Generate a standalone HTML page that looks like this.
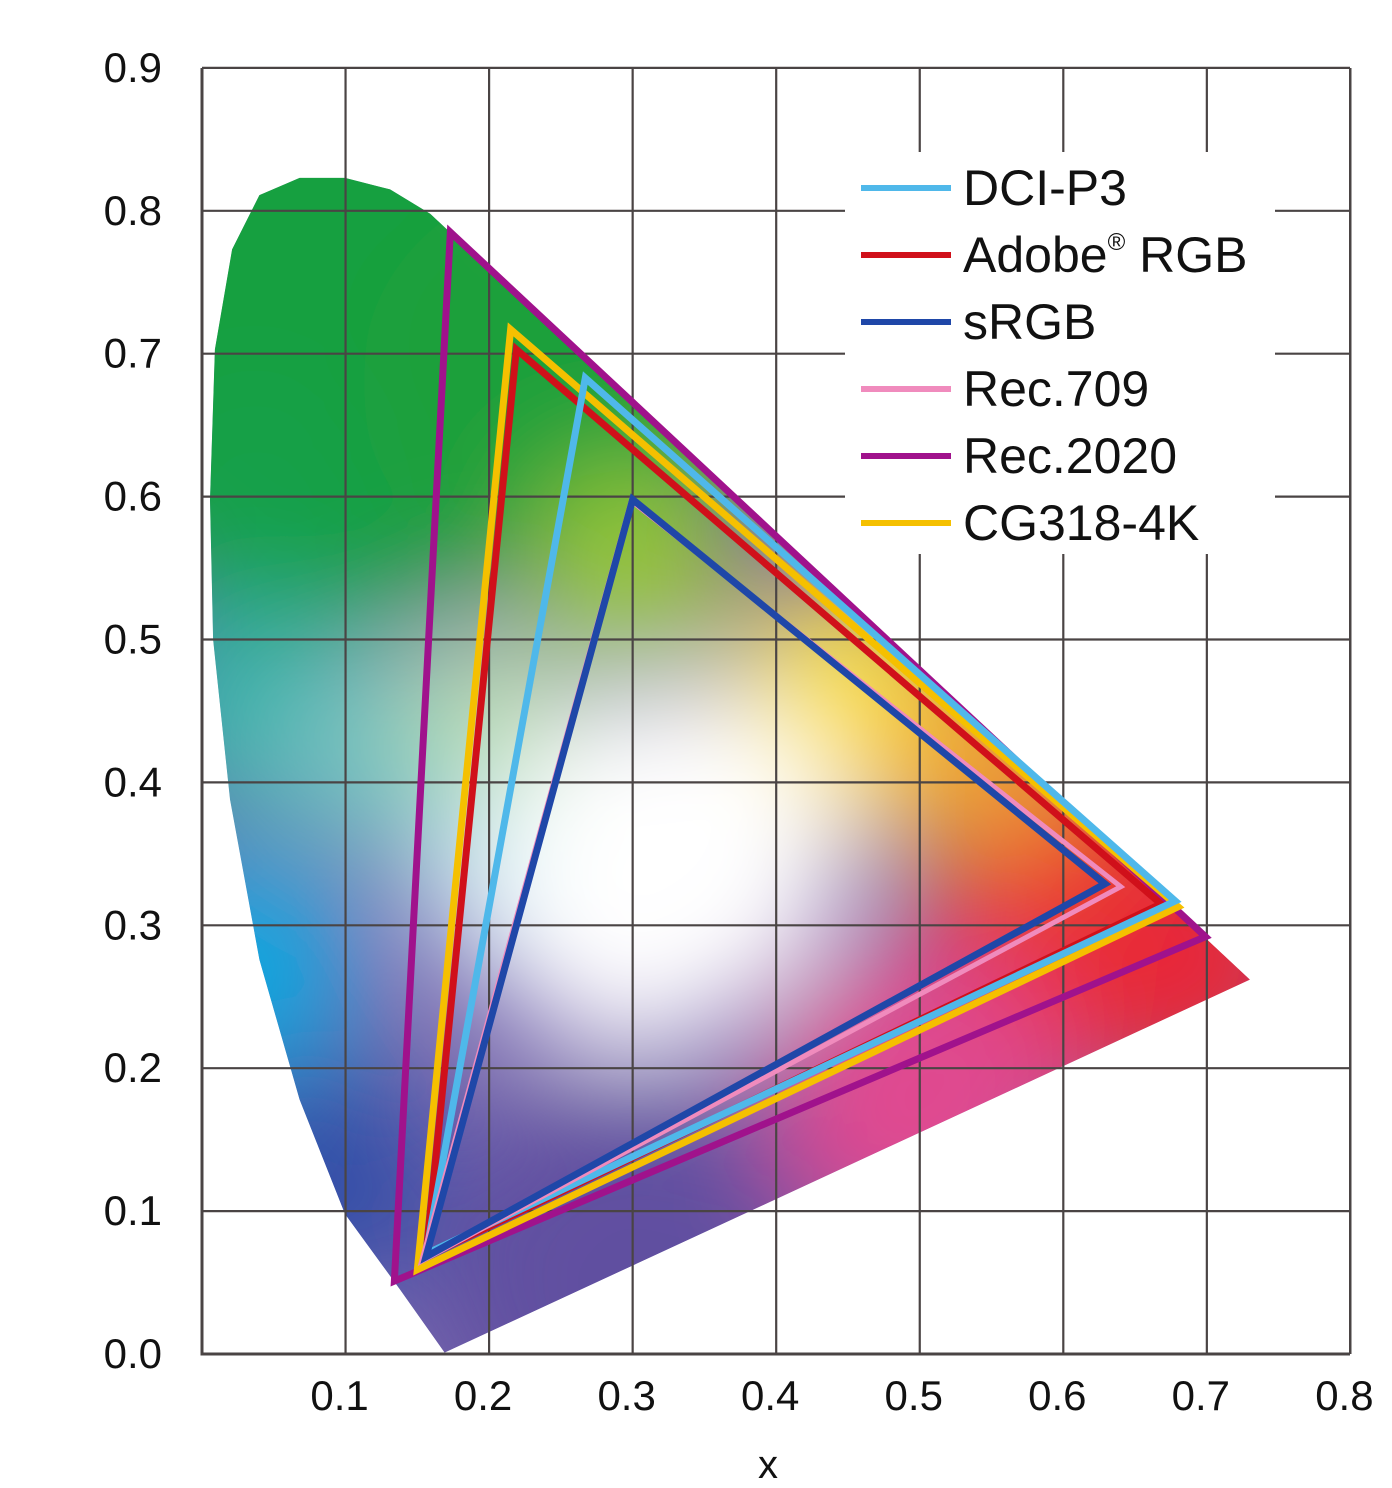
<!DOCTYPE html>
<html><head><meta charset="utf-8"><style>
html,body{margin:0;padding:0;background:#fff;}
svg{display:block;font-family:"Liberation Sans",Arial,sans-serif;}
</style></head><body>
<svg id="chart" width="1392" height="1488" viewBox="0 0 1392 1488" xmlns="http://www.w3.org/2000/svg">
<defs>
<clipPath id="locusClip"><path id="clipPath"></path></clipPath>
<filter id="blur" x="-50%" y="-50%" width="200%" height="200%"><feGaussianBlur stdDeviation="55"/></filter>
</defs>
<g id="locusGroup" clip-path="url(#locusClip)"></g>
<g id="grid"></g>
<g id="tris"></g>
<g id="legend"></g>
<g id="axes"></g>
</svg>
<script>
const xTicks=[0.1,0.2,0.3,0.4,0.5,0.6,0.7,0.8];
const yTicks=[0.0,0.1,0.2,0.3,0.4,0.5,0.6,0.7,0.8,0.9];
const xTickLabels=["0.1","0.2","0.3","0.4","0.5","0.6","0.7","0.8"];
const yTickLabels=["0.0","0.1","0.2","0.3","0.4","0.5","0.6","0.7","0.8","0.9"];
const locusX=[0.169,0.730,0.159,0.131,0.0996,0.068,0.040,0.021,0.009,0.0056,0.0077,0.0195,0.040,0.068,0.0996,0.138,0.169];
const locusY=[0.001,0.262,0.798,0.815,0.823,0.823,0.811,0.773,0.703,0.598,0.500,0.388,0.276,0.178,0.098,0.045,0.001];
const gamutNames=["DCI-P3","Adobe RGB","sRGB","Rec.709","Rec.2020","CG318-4K"];
const gamutColors=["#4fb8ea","#d0101a","#1f47a8","#f08bbd","#a0128c","#f5c000"];
const gamutRx=[0.678,0.668,0.629,0.640,0.699,0.680];
const gamutRy=[0.317,0.315,0.329,0.327,0.292,0.313];
const gamutGx=[0.267,0.219,0.300,0.299,0.173,0.215];
const gamutGy=[0.683,0.703,0.598,0.597,0.785,0.717];
const gamutBx=[0.156,0.156,0.156,0.153,0.134,0.150];
const gamutBy=[0.070,0.068,0.068,0.065,0.051,0.059];
const X0=202,XS=1435.5,Y0=1354,YS=1429;
const sx=v=>X0+v*XS, sy=v=>Y0-v*YS;
const NS="http://www.w3.org/2000/svg";
function mk(t,a,p){const e=document.createElementNS(NS,t);for(const k in a)e.setAttribute(k,a[k]);p.appendChild(e);return e;}
let d=locusX.map((x,i)=>(i?"L":"M")+sx(x).toFixed(1)+","+sy(locusY[i]).toFixed(1)).join(" ")+"Z";
document.getElementById("clipPath").setAttribute("d",d);
const lg=document.getElementById("locusGroup");
const bg=mk("path",{d:d,fill:"#7a6ab0"},lg);


const blobs=[[0.08,0.72,300,"#14a040"],[0.25,0.68,200,"#1aa03a"],[0.04,0.60,120,"#18a048"],[0.03,0.45,110,"#30b0a8"],[0.12,0.42,110,"#70c0c0"],[0.03,0.27,110,"#10a8e0"],[0.08,0.12,120,"#3050a8"],[0.30,0.05,200,"#6050a0"],[0.62,0.30,170,"#e83030"],[0.70,0.27,110,"#e82838"],[0.50,0.18,150,"#e04890"],[0.45,0.45,130,"#f8e040"],[0.55,0.42,100,"#f0a030"],[0.20,0.45,90,"#b8dcb0"],[0.22,0.33,100,"#c8e8f0"],[0.33,0.35,170,"#ffffff"],[0.30,0.30,130,"#ffffff"],[0.30,0.55,100,"#98c838"]];
const bl=mk("g",{filter:"url(#blur)"},lg);
blobs.forEach(b=>{mk("circle",{cx:sx(b[0]),cy:sy(b[1]),r:b[2],fill:b[3]},bl);});
const g=document.getElementById("grid");
xTicks.forEach(v=>{const l=mk("line",{x1:sx(v),x2:sx(v),y1:68,y2:Y0,stroke:"#4a4444","stroke-width":2.2},g);});
yTicks.forEach(v=>{const l=mk("line",{x1:X0,x2:1350,y1:sy(v),y2:sy(v),stroke:"#4a4444","stroke-width":2.2},g);});
const tg=document.getElementById("tris");
[4,1,5,0,3,2].forEach(i=>{
 const p=mk("polygon",{points:[[gamutRx[i],gamutRy[i]],[gamutGx[i],gamutGy[i]],[gamutBx[i],gamutBy[i]]].map(q=>sx(q[0])+","+sy(q[1])).join(" "),fill:"none",stroke:gamutColors[i],"stroke-width":i==3?5:7,"stroke-linejoin":"miter"},tg);
 
 
});
const le=document.getElementById("legend");
mk("rect",{x:845,y:152,width:430,height:402,fill:"#fff"},le);
gamutNames.forEach((n,i)=>{
 const y=188+i*67;
 const ln=mk("line",{x1:861,x2:951,y1:y,y2:y,stroke:gamutColors[i],"stroke-width":6},le);
 
 
 const t=mk("text",{x:963,y:y+17,"font-size":50,fill:"#111"},le);
 
 
 if(n==="Adobe RGB"){t.textContent="Adobe";const s=mk("tspan",{"font-size":24,dy:-22},t);s.textContent="®";const s2=mk("tspan",{dy:22},t);s2.textContent=" RGB";}
 else t.textContent=n;
});
const ax=document.getElementById("axes");
mk("polyline",{points:`${X0},68 ${X0},${Y0} 1350,${Y0}`,fill:"none",stroke:"#4a4444","stroke-width":3},ax);
mk("line",{x1:X0,x2:1350,y1:68,y2:68,stroke:"#4a4444","stroke-width":2},ax);
mk("line",{x1:1350,x2:1350,y1:68,y2:Y0,stroke:"#4a4444","stroke-width":2},ax);
xTicks.forEach((v,i)=>{const t=mk("text",{x:sx(v)-6,y:1410,"font-size":42,"text-anchor":"middle",fill:"#111"},ax);t.textContent=xTickLabels[i];});
yTicks.forEach((v,i)=>{const t=mk("text",{x:162,y:sy(v)+14,"font-size":42,"text-anchor":"end",fill:"#111"},ax);t.textContent=yTickLabels[i];});
const xt=mk("text",{x:768,y:1478,"font-size":40,"text-anchor":"middle",fill:"#111"},ax);
xt.textContent="x";


</script>
</body></html>
